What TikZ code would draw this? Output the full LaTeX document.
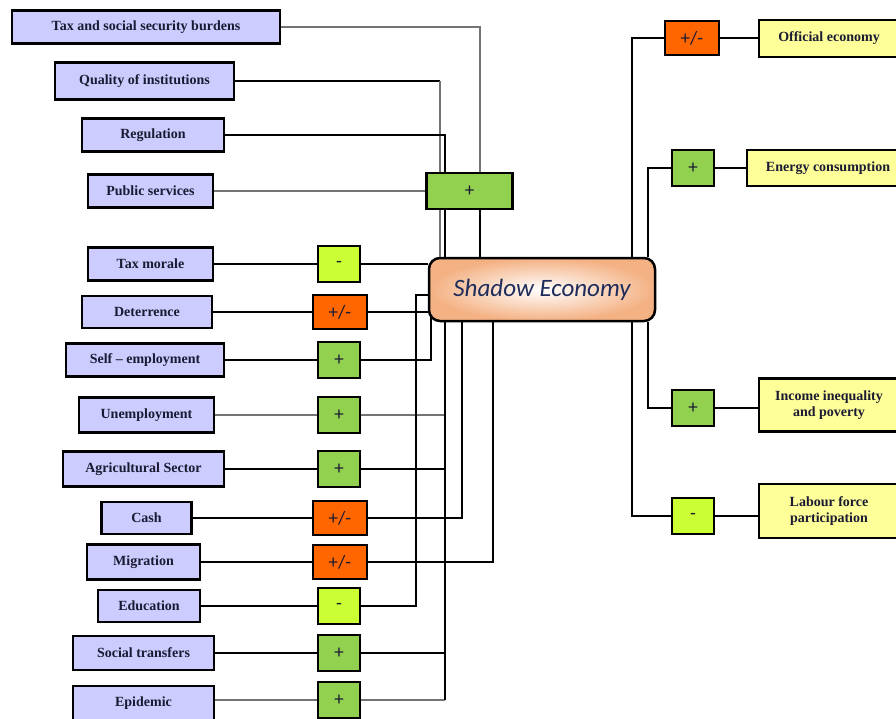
\documentclass[tikz,border=0pt]{standalone}
\usepackage{fontspec}
\setmainfont{Liberation Serif}
\newfontfamily\calibri{Carlito}
\usetikzlibrary{calc,positioning}
\usepackage{xcolor}

\definecolor{factorblue}{HTML}{CCCCFF}
\definecolor{effectyellow}{HTML}{FFFF99}
\definecolor{plusgreen}{HTML}{92D050}
\definecolor{pmorange}{HTML}{FF6600}
\definecolor{minuslime}{HTML}{CCFF33}
\definecolor{coreorange}{HTML}{F4B183}
\definecolor{boxtext}{HTML}{1A1A33}
\definecolor{coretext}{HTML}{1F2D5A}

\tikzset{
  factor/.style={draw, line width=2.5pt, fill=factorblue, text=boxtext, inner sep=2pt,
    minimum height=33pt, font=\fontsize{14}{16}\selectfont\bfseries},
  effect/.style={factor, fill=effectyellow, align=center},
  signbox/.style={draw, line width=2.5pt, inner sep=0pt, minimum width=42pt, minimum height=36pt,
    text=boxtext, font=\calibri\fontsize{19}{21}\selectfont},
  signplus/.style={signbox, fill=plusgreen},
  signminus/.style={signbox, fill=minuslime},
  signpm/.style={signbox, fill=pmorange, minimum width=54pt, minimum height=34pt},
  wire/.style={line width=2pt},
  gwire/.style={line width=1.6pt, black!55},
}

\begin{document}
\begin{tikzpicture}[x=1pt,y=-1pt]
    \useasboundingbox (0,0) rectangle (896,718);

    % Core node
    \node[draw, line width=2.5pt, rounded corners=11pt, shade, inner color=white, outer color=coreorange,
      minimum width=226pt, minimum height=63pt, text=coretext,
      font=\calibri\itshape\fontsize{25}{28}\selectfont] (shadow) at (542,289.5) {Shadow Economy};

    % Causes
    \node[factor, minimum width=268pt] (tax) at (146,27) {Tax and social security burdens};
    \node[factor, minimum width=179pt, minimum height=37pt] (qual) at (144.5,81) {Quality of institutions};
    \node[factor, minimum width=142pt] (reg) at (153,135) {Regulation};
    \node[factor, minimum width=125pt] (pub) at (150.5,191) {Public services};
    \node[factor, minimum width=125pt] (morale) at (150.5,264) {Tax morale};
    \node[factor, minimum width=130pt, minimum height=32pt] (deter) at (147,312) {Deterrence};
    \node[factor, minimum width=158pt] (self) at (145,360) {Self -- employment};
    \node[factor, minimum width=135pt, minimum height=35pt] (unemp) at (146.5,415) {Unemployment};
    \node[factor, minimum width=161pt, minimum height=35pt] (agri) at (143.5,469) {Agricultural Sector};
    \node[factor, minimum width=90pt, minimum height=32pt] (cash) at (146.5,518) {Cash};
    \node[factor, minimum width=113pt, minimum height=35pt] (migr) at (143.5,562) {Migration};
    \node[factor, minimum width=102pt, minimum height=32pt] (educ) at (149,606) {Education};
    \node[factor, minimum width=141pt, minimum height=34pt] (soc) at (143.5,653) {Social transfers};
    \node[factor, minimum width=141pt, minimum height=34pt] (epid) at (143.5,703) {Epidemic};

    % Signs of the causes
    \node[signplus, minimum width=86pt] (s_pub) at (469.5,191) {+};
    \node[signminus] (s_morale) at (339,264) {-};
    \node[signpm] (s_deter) at (340,312) {+/-};
    \node[signplus] (s_self) at (339,360) {+};
    \node[signplus] (s_unemp) at (339,415) {+};
    \node[signplus] (s_agri) at (339,469) {+};
    \node[signpm] (s_cash) at (340,518) {+/-};
    \node[signpm] (s_migr) at (340,562) {+/-};
    \node[signminus] (s_educ) at (339,606) {-};
    \node[signplus] (s_soc) at (339,653) {+};
    \node[signplus] (s_epid) at (339,700) {+};

    % Effects
    \node[effect, minimum width=140pt, minimum height=37pt] (official) at (829,38.5) {Official economy};
    \node[effect, minimum width=162pt, minimum height=36pt] (energy) at (828,168) {Energy consumption};
    \node[effect, minimum width=140pt, minimum height=53pt] (income) at (829,405) {Income inequality\\and poverty};
    \node[effect, minimum width=140pt, minimum height=54pt] (labour) at (829,511) {Labour force\\participation};

    % Signs of the effects
    \node[signpm] (s_off) at (692,38) {+/-};
    \node[signplus] (s_energy) at (693,168) {+};
    \node[signplus] (s_income) at (693,408) {+};
    \node[signminus] (s_labour) at (693,516) {-};

    % Entry points on the core
    \coordinate (qualin) at ([xshift=12pt]shadow.north west);
    \coordinate (regin) at ([xshift=17pt]shadow.north west);
    \coordinate (taxin) at ([xshift=52pt]shadow.north west);
    \coordinate (selfin) at ([xshift=3pt,yshift=5pt]shadow.south west);
    \coordinate (busa) at ([xshift=17pt]shadow.south west);
    \coordinate (busb) at ([xshift=34pt]shadow.south west);
    \coordinate (busc) at ([xshift=65pt]shadow.south west);
    \coordinate (eduturn) at (416,295);
    \coordinate (ra) at ([xshift=-24pt]shadow.north east);
    \coordinate (rb) at ([xshift=-8pt]shadow.north east);
    \coordinate (rc) at ([xshift=-24pt]shadow.south east);
    \coordinate (rd) at ([xshift=-8pt]shadow.south east);

    % Top wires
    \draw[gwire] (tax.east) -| (taxin |- s_pub.north);
    \draw[wire] (taxin |- s_pub.south) -- (taxin);
    \draw[wire] (qual.east) -- (qual.east -| qualin);
    \draw[gwire] (qual.east -| qualin) -- (qualin |- s_pub.north);
    \draw[gwire] (qualin |- s_pub.south) -- (qualin);
    \draw[wire] (reg.east) -| (regin |- s_pub.north);
    \draw[wire] (regin |- s_pub.south) -- (regin);
    \draw[gwire] (pub) -- (s_pub);

    % Left wires
    \draw[wire] (morale) -- (s_morale) -- (s_morale -| shadow.west);
    \draw[wire] (deter) -- (s_deter) -- (s_deter -| shadow.west);
    \draw[wire] (self) -- (s_self) -| (selfin);
    \draw[gwire] (unemp) -- (s_unemp) -- (s_unemp -| busa);
    \draw[wire] (agri) -- (s_agri) -- (s_agri -| busa);
    \draw[wire] (cash) -- (s_cash) -| (busb);
    \draw[wire] (migr) -- (s_migr) -| (busc);
    \draw[wire] (educ) -- (s_educ) -| (eduturn) -- (eduturn -| shadow.west);
    \draw[wire] (soc) -- (s_soc) -- (s_soc -| busa);
    \draw[gwire] (epid.east |- s_epid) -- (s_epid) -- (s_epid -| busa);
    \draw[wire] (busa) -- (busa |- s_epid);

    % Right wires
    \draw[wire] (ra) |- (s_off);
    \draw[wire] (s_off) -- (s_off -| official.west);
    \draw[wire] (rb) |- (s_energy);
    \draw[wire] (s_energy) -- (s_energy -| energy.west);
    \draw[wire] (rd) |- (s_income);
    \draw[wire] (s_income) -- (s_income -| income.west);
    \draw[wire] (rc) |- (s_labour);
    \draw[wire] (s_labour) -- (s_labour -| labour.west);
\end{tikzpicture}
\end{document}
